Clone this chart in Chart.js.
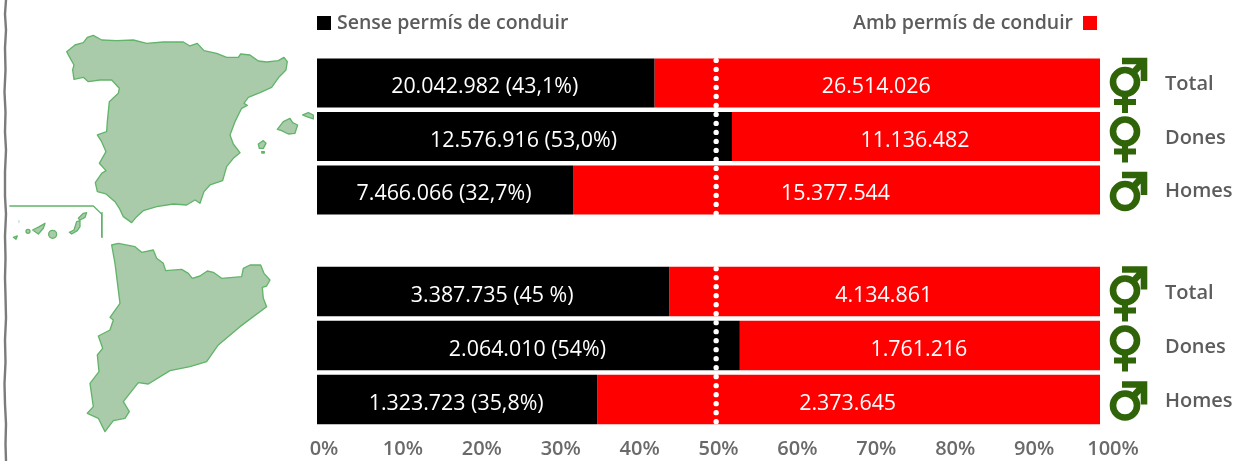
<!DOCTYPE html>
<html lang="ca">
<head>
<meta charset="utf-8">
<title>Permís de conduir</title>
<script src="https://cdn.jsdelivr.net/npm/chart.js@4"></script>
<style>
html,body{margin:0;padding:0;background:#fff;width:1233px;height:461px;overflow:hidden}
#stage{position:relative;width:1233px;height:461px;overflow:hidden;filter:blur(0.45px)}
#stage canvas,#stage svg{position:absolute;left:0;top:0}
</style>
</head>
<body>
<div id="stage">
<svg width="1233" height="461" viewBox="0 0 1233 461" aria-hidden="true">
  <polyline fill="none" stroke="#7b7b7b" stroke-width="2.4" points="6,0 5,14 6,30 5,48 5.5,70 4.5,92 5.5,112 5,132 6,150 5,172 5,196 6,214 5,236 5.5,258 5,278 5.5,296 6,318 5,340 5.5,362 4.5,384 5,404 6,424 5.5,444 6,461"/>
  <g transform="scale(0.3333)" fill="#a9cbaa" stroke="#63b46b" stroke-width="4" stroke-linejoin="round">
    <path d="M200,155 225,135 250,128 262,112 280,106 305,120 350,122 400,120 440,130 490,126 550,126 570,138 592,130 612,152 650,160 680,172 715,172 722,162 750,165 775,183 800,186 835,182 852,172 862,185 858,210 838,230 815,262 780,278 745,292 732,310 742,316 725,325 705,365 690,405 700,432 720,458 700,475 680,500 668,542 630,555 612,575 600,610 585,600 560,615 520,612 470,620 430,632 410,650 395,668 370,650 358,625 345,605 318,582 292,575 286,548 305,520 318,512 298,490 318,455 305,425 292,405 320,395 322,365 328,305 355,280 358,265 335,240 300,240 265,245 250,232 222,238 218,210 222,195 208,170Z"/>
    <path d="M832,388 850,365 870,355 878,368 893,375 885,400 865,402 845,392Z"/>
    <path d="M908,345 925,338 940,345 940,357 920,350Z"/>
    <path d="M775,432 790,422 798,430 790,445 778,445Z"/>
    <path d="M785,455 793,455 793,459 786,459Z"/>
    <path d="M235,655 250,640 260,638 255,652 240,660Z"/>
    <path d="M208,697 222,690 230,665 240,662 240,680 232,692 215,702Z"/>
    <circle cx="158" cy="703" r="12"/>
    <path d="M98,690 118,680 135,670 130,685 115,702Z"/>
    <circle cx="84" cy="694" r="6"/>
    <path d="M40,712 52,708 48,718Z"/>
    <path d="M53,660 60,662 57,672Z" opacity="0.6" stroke="none"/>
    <polyline fill="none" points="28,618 280,618 305,642 305,712"/>
  </g>
  <g transform="translate(0,230) scale(0.3333)" fill="#a9cbaa" stroke="#63b46b" stroke-width="4" stroke-linejoin="round">
    <path d="M335,45 355,40 405,50 425,67 460,60 470,85 490,100 497,122 545,118 565,130 577,145 600,138 622,123 640,127 665,145 725,140 730,115 750,105 782,105 792,130 810,150 800,168 787,172 790,205 800,230 720,290 655,345 620,395 570,410 510,422 445,462 415,458 370,515 388,545 375,565 340,572 315,605 295,565 262,550 280,530 270,460 297,425 292,375 308,355 295,318 330,300 340,270 330,262 360,220 345,100Z"/>
  </g>
  <line x1="102" y1="212" x2="102" y2="238" stroke="#63b46b" stroke-width="1.3"/>
</svg>
<canvas id="spain" width="1233" height="461"></canvas>
<canvas id="catalonia" width="1233" height="500"></canvas>
</div>
<script>
const categories = ['Total', 'Dones', 'Homes'];
const seriesNames = ['Sense permís de conduir', 'Amb permís de conduir'];

const spainWithout = [43.1, 53.0, 32.7];
const spainWith = [56.9, 47.0, 67.3];
const spainWithoutLabels = ['20.042.982 (43,1%)', '12.576.916 (53,0%)', '7.466.066 (32,7%)'];
const spainWithLabels = ['26.514.026', '11.136.482', '15.377.544'];

const catWithout = [45.0, 54.0, 35.8];
const catWith = [55.0, 46.0, 64.2];
const catWithoutLabels = ['3.387.735 (45 %)', '2.064.010 (54%)', '1.323.723 (35,8%)'];
const catWithLabels = ['4.134.861', '1.761.216', '2.373.645'];

const tickValues = [0, 10, 20, 30, 40, 50, 60, 70, 80, 90, 100];
const referenceLine = 49.7;

const FONT = '"Open Sans", sans-serif';
const TEXT_GREY = '#5c5c5c';
const SYMBOL_GREEN = '#2f6508';
const symbolOffsets = [-1, -5, 6];

function drawSymbol(ctx, cx, cy, label) {
  ctx.save();
  ctx.strokeStyle = SYMBOL_GREEN;
  ctx.lineWidth = 6.6;
  ctx.lineCap = 'butt';
  ctx.lineJoin = 'miter';
  ctx.beginPath();
  ctx.arc(cx, cy, 12, 0, Math.PI * 2);
  ctx.stroke();
  if (label !== 'Homes') {
    ctx.lineWidth = 6;
    ctx.beginPath();
    ctx.moveTo(cx, cy + 14); ctx.lineTo(cx, cy + 31);
    ctx.moveTo(cx - 11, cy + 20); ctx.lineTo(cx + 11, cy + 20);
    ctx.stroke();
  }
  if (label !== 'Dones') {
    ctx.lineWidth = 6.6;
    ctx.beginPath();
    ctx.moveTo(cx + 8, cy - 9); ctx.lineTo(cx + 19, cy - 21);
    ctx.moveTo(cx - 3, cy - 21); ctx.lineTo(cx + 19, cy - 21); ctx.lineTo(cx + 19, cy - 1);
    ctx.stroke();
  }
  ctx.restore();
}

const marksPlugin = {
  id: 'marks',
  afterDatasetsDraw(chart, args, opts) {
    const ctx = chart.ctx;
    const px = chart.scales.x2.getPixelForValue(referenceLine);
    const yTop = chart.getDatasetMeta(0).data[0];
    const yBottom = chart.getDatasetMeta(0).data[2];
    ctx.save();
    ctx.strokeStyle = '#fff';
    ctx.lineWidth = 5.4;
    ctx.lineCap = 'round';
    ctx.setLineDash([0, 9]);
    ctx.beginPath();
    ctx.moveTo(px, yTop.y - yTop.height / 2 + 2);
    ctx.lineTo(px, yBottom.y + yBottom.height / 2);
    ctx.stroke();
    ctx.restore();

    ctx.save();
    ctx.font = '500 21.4px ' + FONT;
    ctx.fillStyle = '#fff';
    ctx.textAlign = 'center';
    ctx.textBaseline = 'middle';
    chart.data.datasets.forEach((ds, d) => {
      chart.getDatasetMeta(d).data.forEach((bar, i) => {
        const p = bar.getCenterPoint();
        ctx.fillText(ds.valueLabels[i], p.x - 1, p.y + 4);
      });
    });
    ctx.restore();

    const yScale = chart.scales.y;
    categories.forEach((c, i) => {
      drawSymbol(ctx, chart.scales.x.getPixelForValue(103.83) - 5, yScale.getPixelForValue(i) + symbolOffsets[i], c);
    });

    if (opts.legend) {
      const xs = chart.scales.x;
      const [a, b] = chart.data.datasets;
      ctx.save();
      ctx.font = '600 19.5px ' + FONT;
      ctx.textBaseline = 'middle';
      ctx.fillStyle = a.backgroundColor;
      ctx.fillRect(xs.left, 16, 14, 14);
      ctx.fillStyle = TEXT_GREY;
      ctx.textAlign = 'left';
      ctx.fillText(a.label, xs.left + 20, 23);
      ctx.textAlign = 'right';
      ctx.fillText(b.label, xs.getPixelForValue(100) - 27, 23);
      ctx.fillStyle = b.backgroundColor;
      ctx.fillRect(xs.getPixelForValue(100) - 17, 16, 14, 14);
      ctx.restore();
    }
  }
};

function makeChart(id, without, withD, withoutLabels, withLabels, padTop, padBottom, showAxis, legend) {
  return new Chart(document.getElementById(id), {
    type: 'bar',
    plugins: [marksPlugin],
    data: {
      labels: categories,
      datasets: [
        { label: seriesNames[0], data: without, valueLabels: withoutLabels, backgroundColor: '#000000', xAxisID: 'x', yAxisID: 'y', categoryPercentage: 1, barPercentage: 0.92 },
        { label: seriesNames[1], data: withD, valueLabels: withLabels, backgroundColor: '#ff0000', xAxisID: 'x', yAxisID: 'y', categoryPercentage: 1, barPercentage: 0.92 }
      ]
    },
    options: {
      indexAxis: 'y',
      responsive: false,
      animation: false,
      devicePixelRatio: 1,
      layout: { padding: { left: 317, top: padTop, bottom: padBottom, right: 0 } },
      plugins: { legend: { display: false }, tooltip: { enabled: false }, marks: { legend } },
      scales: {
        x: { type: 'linear', stacked: true, min: 0, max: 103.83, display: false },
        x2: {
          type: 'linear', position: 'bottom', min: -0.887, max: 102.15,
          display: showAxis,
          grid: { display: false, drawTicks: false }, border: { display: false },
          afterBuildTicks(s) { s.ticks = tickValues.map(v => ({ value: v })); },
          ticks: {
            autoSkip: false, maxRotation: 0, padding: 11, color: '#6a6a6a',
            font: { family: FONT, size: 20, weight: '600' },
            callback: v => v + '%'
          }
        },
        y: {
          type: 'category', stacked: true, position: 'right',
          grid: { display: false }, border: { display: false },
          afterFit(s) { s.width = 103; },
          ticks: {
            padding: 27, labelOffset: 1.5, color: TEXT_GREY,
            font: { family: FONT, size: 20, weight: '600' }
          }
        }
      }
    }
  });
}

makeChart('spain', spainWithout, spainWith, spainWithoutLabels, spainWithLabels, 56.25, 244.25, false, true);
makeChart('catalonia', catWithout, catWith, catWithoutLabels, catWithLabels, 264.5, 27.5, true, false);
</script>
</body>
</html>
